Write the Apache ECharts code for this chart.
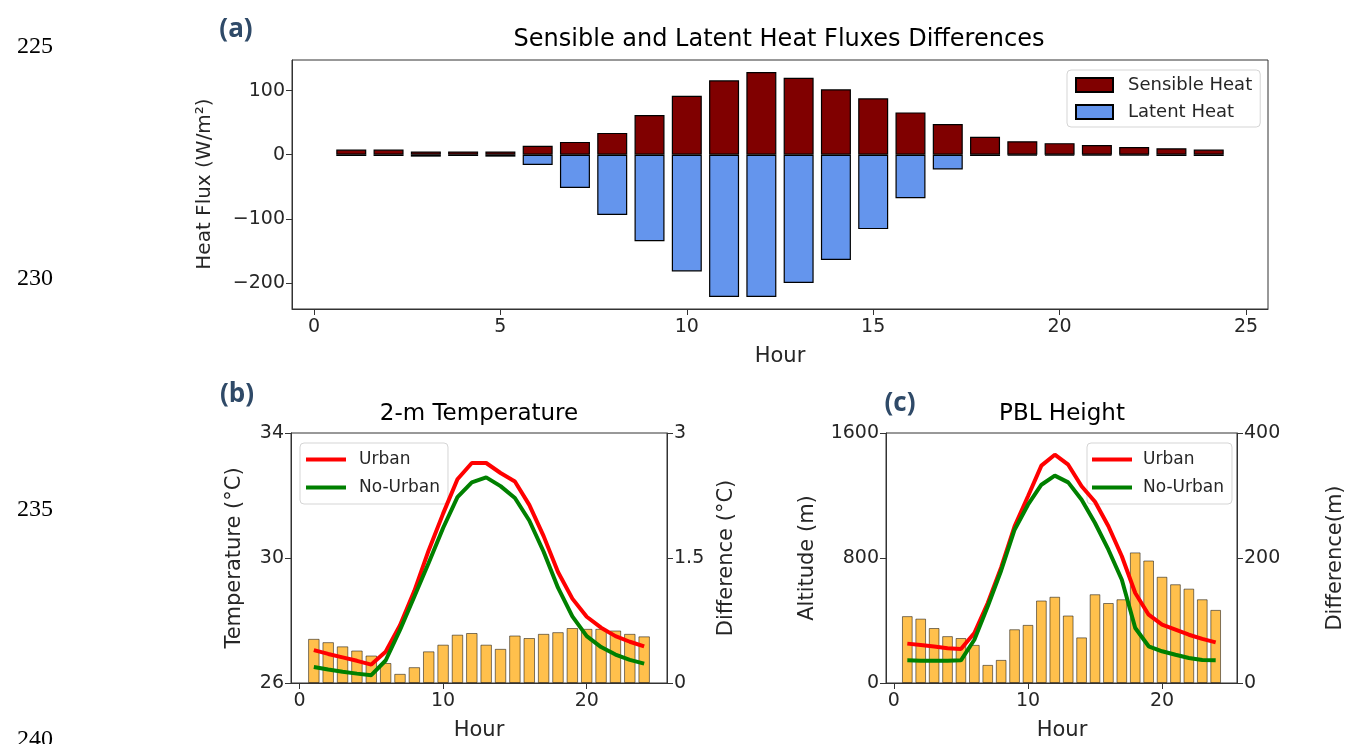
<!DOCTYPE html>
<html style="height: 100%">
<head>
<meta charset="utf-8">
</head>
<body style="height: 100%; margin: 0; background: #fff">
<div id="container" style="width: 1349px; height: 744px;"></div>
<script type="text/javascript" src="https://cdn.jsdelivr.net/npm/echarts@6/dist/echarts.min.js"></script>
<script type="text/javascript">
// hours of the day (x of every bar / point)
var hours = [1, 2, 3, 4, 5, 6, 7, 8, 9, 10, 11, 12, 13, 14, 15, 16, 17, 18, 19, 20, 21, 22, 23, 24];

// (a) heat flux differences, W/m2
var sensibleHeat = [8, 8, 5, 5, 5, 14, 20, 34, 62, 92, 116, 129, 120, 102, 88, 66, 48, 28, 21, 18, 15, 12, 10, 8];
var latentHeat = [-2, -2, -3, -2, -3, -16, -52, -94, -135, -182, -222, -222, -200, -164, -116, -68, -23, -2, -1, -1, -1, -1, -2, -2];

// (b) 2-m temperature, degC
var tempUrban = [27.05, 26.93, 26.82, 26.71, 26.59, 27.0, 27.85, 28.95, 30.25, 31.42, 32.52, 33.04, 33.04, 32.72, 32.45, 31.7, 30.7, 29.55, 28.7, 28.12, 27.77, 27.5, 27.32, 27.17];
var tempNoUrban = [26.51, 26.43, 26.36, 26.3, 26.25, 26.72, 27.7, 28.77, 29.85, 30.96, 31.95, 32.42, 32.58, 32.3, 31.92, 31.2, 30.2, 29.05, 28.13, 27.5, 27.15, 26.91, 26.74, 26.62];
var tempDiff = [0.53, 0.49, 0.44, 0.39, 0.33, 0.24, 0.11, 0.19, 0.38, 0.46, 0.58, 0.6, 0.46, 0.41, 0.57, 0.54, 0.59, 0.61, 0.66, 0.65, 0.65, 0.63, 0.59, 0.56];

// (c) PBL height, m
var pblUrban = [252, 243, 233, 222, 218, 320, 512, 740, 1003, 1195, 1391, 1461, 1397, 1259, 1160, 1003, 811, 576, 437, 373, 341, 309, 282, 260];
var pblNoUrban = [145, 143, 143, 143, 145, 277, 491, 720, 981, 1141, 1269, 1327, 1284, 1173, 1024, 853, 661, 352, 235, 203, 181, 160, 147, 145];
var pblDiff = [107, 103, 88, 75, 72, 61, 29, 37, 86, 93, 132, 138, 108, 73, 142, 128, 134, 209, 196, 170, 158, 151, 134, 117];

// tick labels
var ticksA = [0, 5, 10, 15, 20, 25];
var ticksBC = [0, 10, 20];
var fluxTicks = [-200, -100, 0, 100];
var lineNumbers = ['225', '230', '235', '240'];

function pairs(ys) {
    return hours.map(function (h, i) { return [h, ys[i]]; });
}

var FONT = 'DejaVu Sans';
var INK = '#262626';
var AX = '#333';

function xAxisFor(grid, ticks) {
    return {
        type: 'value', gridIndex: grid, min: -0.59, max: 25.59,
        splitLine: { show: false },
        axisLine: { show: true, onZero: false, lineStyle: { color: AX } },
        axisTick: { show: true, length: 6, customValues: ticks, lineStyle: { color: AX } },
        axisLabel: { customValues: ticks, color: INK, fontSize: 19, fontFamily: FONT, margin: 9 }
    };
}
function yAxisFor(grid, pos, min, max, interval) {
    return {
        type: 'value', gridIndex: grid, position: pos, min: min, max: max, interval: interval,
        splitLine: { show: false },
        axisLine: { show: true, onZero: false, lineStyle: { color: AX } },
        axisTick: { show: true, length: 6, lineStyle: { color: AX } },
        axisLabel: {
            color: INK, fontSize: 19, fontFamily: FONT, margin: 7,
            formatter: function (v) { return v < 0 ? '\u2212' + Math.abs(v) : String(v); }
        }
    };
}

var fluxY = yAxisFor(0, 'left', -240.6, 147.7);
delete fluxY.interval;
fluxY.axisTick.customValues = fluxTicks;
fluxY.axisLabel.customValues = fluxTicks;

function txt(x, y, s, size, opts) {
    opts = opts || {};
    return {
        type: 'text', x: x, y: y, rotation: opts.rot || 0, z: 100,
        style: {
            text: s, fontSize: size, fontFamily: opts.font || FONT,
            fontWeight: opts.weight || 'normal', fill: opts.color || INK,
            textAlign: opts.align || 'center', textVerticalAlign: opts.valign || 'middle'
        }
    };
}

var legendBase = {
    orient: 'vertical', backgroundColor: 'rgba(255,255,255,0.8)',
    borderColor: '#d5d5d5', borderWidth: 1, borderRadius: 4,
    selectedMode: false, icon: 'rect'
};

var serif = { font: 'Liberation Serif', align: 'left', color: '#000' };
var panelLbl = { font: 'Open Sans', weight: 'bold', color: '#2f4a68' };

var graphics = [
    txt(17, 47, lineNumbers[0], 24, serif),
    txt(17, 279, lineNumbers[1], 24, serif),
    txt(17, 510, lineNumbers[2], 24, serif),
    txt(17, 728, lineNumbers[3], 24, { font: 'Liberation Serif', align: 'left', valign: 'top', color: '#000' }),
    txt(236, 30, '(a)', 26, panelLbl),
    txt(237, 395, '(b)', 26, panelLbl),
    txt(900, 404, '(c)', 26, panelLbl),
    txt(779, 40, 'Sensible and Latent Heat Fluxes Differences', 24, { color: '#000' }),
    txt(479, 414, '2-m Temperature', 23, { color: '#000' }),
    txt(1062, 414, 'PBL Height', 23, { color: '#000' }),
    txt(205, 184, 'Heat Flux (W/m\u00b2)', 20, { rot: Math.PI / 2 }),
    txt(780, 357, 'Hour', 21),
    txt(235, 558, 'Temperature (\u00b0C)', 21, { rot: Math.PI / 2 }),
    txt(727, 558, 'Difference (\u00b0C)', 21, { rot: Math.PI / 2 }),
    txt(479, 731, 'Hour', 21),
    txt(808, 558, 'Altitude (m)', 21, { rot: Math.PI / 2 }),
    txt(1336, 558, 'Difference(m)', 21, { rot: Math.PI / 2 }),
    txt(1062, 731, 'Hour', 21)
];

var dom = document.getElementById('container');
var myChart = echarts.init(dom, null, { renderer: 'canvas' });
var option = {
    animation: false,
    backgroundColor: '#fff',
    textStyle: { fontFamily: FONT },
    grid: [
        { left: 292, top: 60, width: 976, height: 249, show: true, borderColor: AX, borderWidth: 1, backgroundColor: 'transparent' },
        { left: 291, top: 433, width: 376, height: 250, show: true, borderColor: AX, borderWidth: 1, backgroundColor: 'transparent' },
        { left: 886, top: 433, width: 351, height: 250, show: true, borderColor: AX, borderWidth: 1, backgroundColor: 'transparent' }
    ],
    xAxis: [xAxisFor(0, ticksA), xAxisFor(1, ticksBC), xAxisFor(2, ticksBC)],
    yAxis: [
        fluxY,
        yAxisFor(1, 'left', 26, 34, 4),
        yAxisFor(1, 'right', 0, 3, 1.5),
        yAxisFor(2, 'left', 0, 1600, 800),
        yAxisFor(2, 'right', 0, 400, 200)
    ],
    legend: [
        Object.assign({}, legendBase, {
            left: 1067, top: 70, padding: [6, 8, 6, 8], itemGap: 9,
            itemWidth: 37, itemHeight: 14,
            data: ['Sensible Heat', 'Latent Heat'],
            textStyle: { color: INK, fontSize: 18, fontFamily: FONT, padding: [0, 0, 0, 10] }
        }),
        Object.assign({}, legendBase, {
            left: 300, top: 443, padding: [8, 8, 8, 6], itemGap: 11,
            itemWidth: 40, itemHeight: 4,
            data: ['Urban', 'No-Urban'],
            textStyle: { color: INK, fontSize: 17, fontFamily: FONT, padding: [0, 0, 0, 8] }
        }),
        Object.assign({}, legendBase, {
            left: 1087, top: 443, padding: [8, 8, 8, 5], itemGap: 11,
            itemWidth: 40, itemHeight: 4,
            data: ['Urban', 'No-Urban'],
            textStyle: { color: INK, fontSize: 17, fontFamily: FONT, padding: [0, 0, 0, 6] }
        })
    ],
    graphic: graphics,
    series: [
        {
            name: 'Sensible Heat', type: 'bar', xAxisIndex: 0, yAxisIndex: 0,
            barWidth: 30, barGap: '-100%', data: pairs(sensibleHeat),
            itemStyle: { color: '#800000', borderColor: '#000', borderWidth: 1.2 }
        },
        {
            name: 'Latent Heat', type: 'bar', xAxisIndex: 0, yAxisIndex: 0,
            barWidth: 30, barGap: '-100%', data: pairs(latentHeat),
            itemStyle: { color: '#6495ed', borderColor: '#000', borderWidth: 1.2 }
        },
        {
            name: 'Temp Difference', type: 'bar', xAxisIndex: 1, yAxisIndex: 2,
            barWidth: 11.5, data: pairs(tempDiff),
            itemStyle: { color: 'rgba(255,165,0,0.7)', borderColor: 'rgba(0,0,0,0.5)', borderWidth: 1 }
        },
        {
            name: 'Urban', type: 'line', xAxisIndex: 1, yAxisIndex: 1, symbol: 'none',
            data: pairs(tempUrban), lineStyle: { color: '#ff0000', width: 4 }, itemStyle: { color: '#ff0000' }, z: 5
        },
        {
            name: 'No-Urban', type: 'line', xAxisIndex: 1, yAxisIndex: 1, symbol: 'none',
            data: pairs(tempNoUrban), lineStyle: { color: '#008000', width: 4 }, itemStyle: { color: '#008000' }, z: 5
        },
        {
            name: 'PBL Difference', type: 'bar', xAxisIndex: 2, yAxisIndex: 4,
            barWidth: 10.7, data: pairs(pblDiff),
            itemStyle: { color: 'rgba(255,165,0,0.7)', borderColor: 'rgba(0,0,0,0.5)', borderWidth: 1 }
        },
        {
            name: 'Urban', type: 'line', xAxisIndex: 2, yAxisIndex: 3, symbol: 'none',
            data: pairs(pblUrban), lineStyle: { color: '#ff0000', width: 4 }, itemStyle: { color: '#ff0000' }, z: 5
        },
        {
            name: 'No-Urban', type: 'line', xAxisIndex: 2, yAxisIndex: 3, symbol: 'none',
            data: pairs(pblNoUrban), lineStyle: { color: '#008000', width: 4 }, itemStyle: { color: '#008000' }, z: 5
        }
    ]
};
myChart.setOption(option);
</script>
</body>
</html>
